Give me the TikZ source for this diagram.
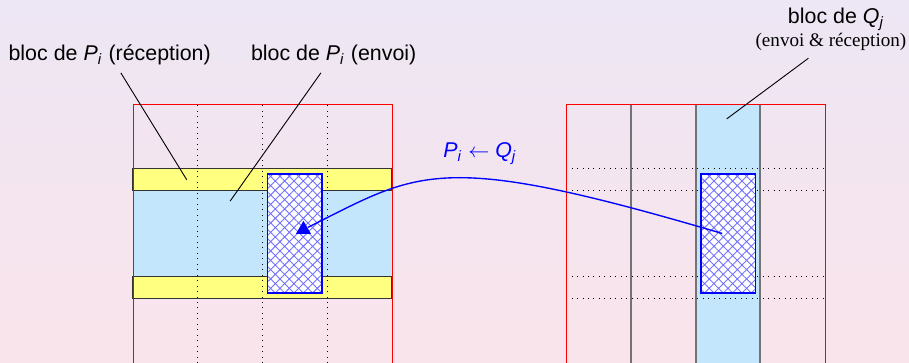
\documentclass[tikz,border=0pt]{standalone}
\usepackage{fontspec}
\setmainfont{Liberation Sans}
\newfontfamily\remfont{Liberation Serif}
\usetikzlibrary{patterns.meta,shapes.geometric}
\definecolor{bgtop}{RGB}{237,230,244}
\definecolor{bgbot}{RGB}{250,228,235}
\definecolor{bandyellow}{RGB}{255,255,128}
\definecolor{bandblue}{RGB}{195,230,252}

\begin{document}
\begin{tikzpicture}[font=\fontsize{9.4}{11.3}\selectfont,
  frame/.style={draw=red},
  band/.style={draw=black!80,semithick,fill=bandyellow},
  blk/.style={draw=blue,semithick,preaction={fill=white},pattern={Hatch[angle=45,distance=2.9pt,line width=0.4pt]},pattern color=blue!55},
  tip/.style={regular polygon,regular polygon sides=3,fill=blue,inner sep=0pt,minimum size=0.27cm}]
  \useasboundingbox (-2.054,0) rectangle (11.985,5.606);
  \shade[top color=bgtop,bottom color=bgbot] (-2.054,0) rectangle (11.985,5.606);

  \fill[bandblue] (0,4/3) rectangle (4,8/3);
  \draw[band] (0,1) rectangle (4,4/3);
  \draw[band] (0,8/3) rectangle (4,3);
  \foreach \x in {1,2,3}
    \draw[dotted] (\x,0) -- (\x,4);
  \draw[blk] (2.08,1.08) rectangle (2.92,2.92);
  \draw[frame] (0,0) |- (4,4) -- (4,0);

  \begin{scope}[xshift=6.69cm]
    \fill[bandblue] (2,0) rectangle (3,4);
    \foreach \y in {1,4/3,8/3,3}
      \draw[dotted] (0,\y) -- (4,\y);
    \foreach \x in {1,2,3}
      \draw[thick,black!55] (\x,0) -- (\x,4);
    \draw[blk] (2.08,1.08) rectangle (2.92,2.92);
    \draw[frame] (0,0) |- (4,4) -- (4,0);
  \end{scope}

  \node (lblrecv) at (-0.36,4.76) {bloc de \textit{P}\textsubscript{\textit{i}} (réception)};
  \node (lblsend) at (3.10,4.76) {bloc de \textit{P}\textsubscript{\textit{i}} (envoi)};
  \node (lblq) at (10.86,5.31) {bloc de \textit{Q}\textsubscript{\textit{j}}};
  \node[font=\remfont\fontsize{8.4}{10}\selectfont] (lblqsub) at (10.78,4.965) {(envoi \& réception)};
  \node[blue] (lblmsg) at (5.36,3.24) {\textit{P}\textsubscript{\textit{i}} $\leftarrow$ \textit{Q}\textsubscript{\textit{j}}};

  \coordinate (recvpt) at (0.83,2.83);
  \coordinate (sendpt) at (1.5,2.5);
  \coordinate (qpt) at (9.17,3.77);
  \coordinate (qsrc) at (9.1,2.0);
  \node[tip] (pdest) at (2.633,2.06) {};

  \draw (lblrecv) -- (recvpt);
  \draw (lblsend) -- (sendpt);
  \draw (lblqsub) -- (qpt);
  \draw[blue,semithick] (qsrc) .. controls +(-4.4,1.3) and +(1.8,0.9) .. (pdest);
\end{tikzpicture}
\end{document}
